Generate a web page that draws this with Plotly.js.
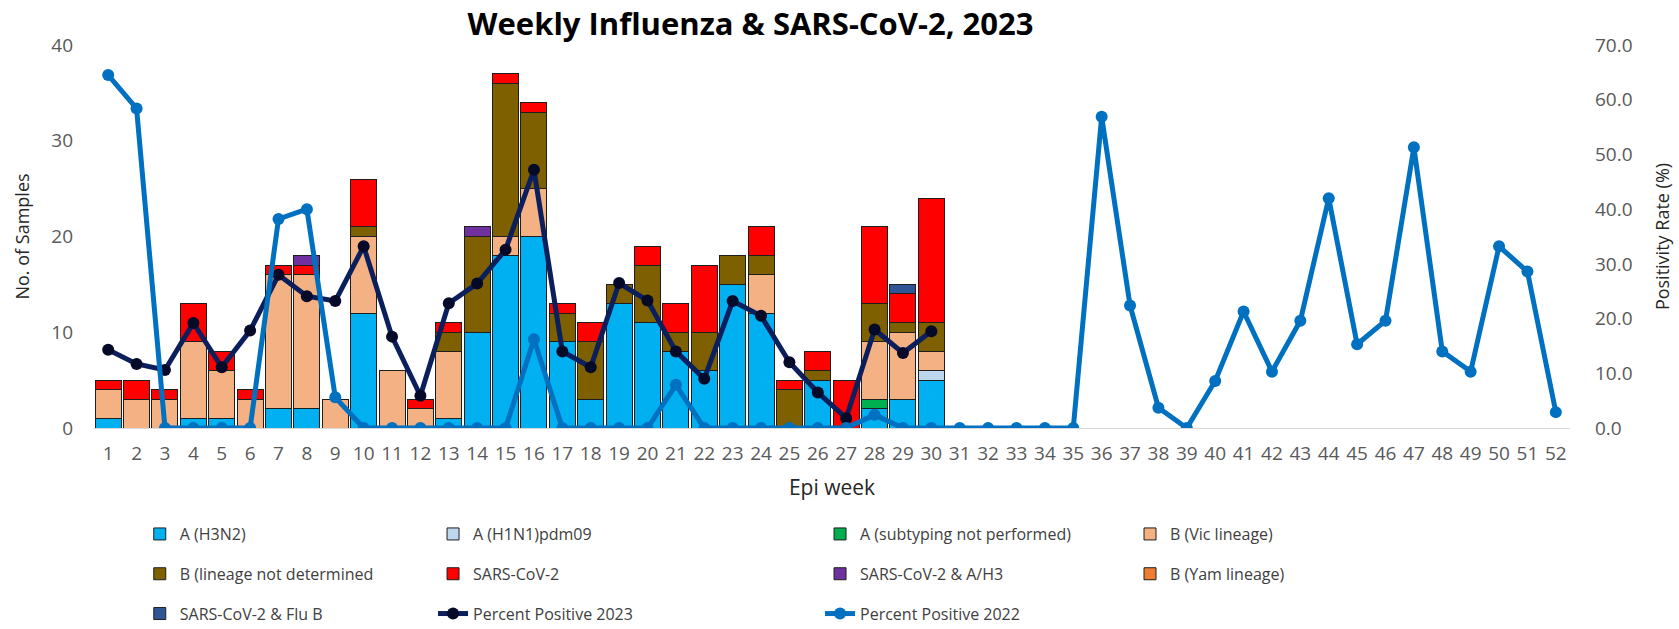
<!DOCTYPE html>
<html>
<head>
<meta charset="utf-8">
<script src="https://cdn.plot.ly/plotly-3.0.1.min.js"></script>
<style>
html,body{margin:0;padding:0;background:#fff;}
#chart{width:1679px;height:629px;}
</style>
</head>
<body>
<div id="chart"></div>
<script>
// ---- data ----
const weeks = ["1","2","3","4","5","6","7","8","9","10","11","12","13","14","15","16","17","18","19","20","21","22","23","24","25","26","27","28","29","30","31","32","33","34","35","36","37","38","39","40","41","42","43","44","45","46","47","48","49","50","51","52"];
const barWeeks = weeks.slice(0, 30);

const aH3N2      = [1,0,0,1,1,0,2,2,0,12,0,0,1,10,18,20,9,3,13,11,8,6,15,12,0,5,0,2,3,5];
const aH1N1      = [0,0,0,0,0,0,0,0,0,0,0,0,0,0,0,0,0,0,0,0,0,0,0,0,0,0,0,0,0,1];
const aSubNP     = [0,0,0,0,0,0,0,0,0,0,0,0,0,0,0,0,0,0,0,0,0,0,0,0,0,0,0,1,0,0];
const bVic       = [3,3,3,8,5,3,14,14,3,8,6,2,7,0,2,5,0,0,0,0,0,0,0,4,0,0,0,6,7,2];
const bND        = [0,0,0,0,0,0,0,0,0,1,0,0,2,10,16,8,3,6,2,6,2,4,3,2,4,1,0,4,1,3];
const sarsCoV2   = [1,2,1,4,2,1,1,1,0,5,0,1,1,0,1,1,1,2,0,2,3,7,0,3,1,2,5,8,3,13];
const sarsAH3    = [0,0,0,0,0,0,0,1,0,0,0,0,0,1,0,0,0,0,0,0,0,0,0,0,0,0,0,0,0,0];
const bYam       = [0,0,0,0,0,0,0,0,0,0,0,0,0,0,0,0,0,0,0,0,0,0,0,0,0,0,0,0,0,0];
const sarsFluB   = [0,0,0,0,0,0,0,0,0,0,0,0,0,0,0,0,0,0,0,0,0,0,0,0,0,0,0,0,1,0];

const pp2023 = [14.3,11.7,10.6,19.2,11.1,17.8,28.0,24.1,23.2,33.2,16.7,5.9,22.8,26.4,32.6,47.2,14.0,11.1,26.5,23.3,14.0,9.0,23.2,20.5,12.0,6.5,1.8,18.0,13.7,17.7];
const pp2022 = [64.5,58.4,0,0,0,0,38.2,40.0,5.6,0,0,0,0,0,0,16.2,0,0,0,0,7.9,0,0,0,0,0,0,2.4,0,0,0,0,0,0,0,56.9,22.4,3.7,0,8.6,21.3,10.3,19.6,42.0,15.3,19.6,51.3,14.0,10.3,33.2,28.6,2.9];

const leftTicks = [0,10,20,30,40];
const rightTicks = [0,10,20,30,40,50,60,70];

// ---- chart ----
const FONT = "Open Sans";
const nz = a => a.map(v => v === 0 ? null : v);
const outline = {color: '#1e1e1e', width: 1};

function barTrace(name, vals, color, legend) {
  return {type: 'bar', name: name, x: barWeeks, y: nz(vals),
          marker: {color: color, line: outline},
          legend: legend, legendgroup: name, hoverinfo: 'x+y+name'};
}

const data = [
  barTrace('A (H3N2)', aH3N2, '#00B0F0', 'legend'),
  barTrace('A (H1N1)pdm09', aH1N1, '#BDD7EE', 'legend2'),
  barTrace('A (subtyping not performed)', aSubNP, '#00B050', 'legend3'),
  barTrace('B (Vic lineage)', bVic, '#F4B183', 'legend4'),
  barTrace('B (lineage not determined', bND, '#7F6000', 'legend'),
  barTrace('SARS-CoV-2', sarsCoV2, '#FF0000', 'legend2'),
  barTrace('SARS-CoV-2 & A/H3', sarsAH3, '#7030A0', 'legend3'),
  barTrace('B (Yam lineage)', bYam, '#ED7D31', 'legend4'),
  barTrace('SARS-CoV-2 & Flu B', sarsFluB, '#2F5597', 'legend'),
  {type: 'scatter', mode: 'lines+markers', name: 'Percent Positive 2023',
   x: barWeeks, y: pp2023, yaxis: 'y2',
   line: {color: '#0B1F5C', width: 5}, marker: {color: '#050A28', size: 12},
   legend: 'legend2', legendgroup: 'pp2023'},
  {type: 'scatter', mode: 'lines+markers', name: 'Percent Positive 2022',
   x: weeks, y: pp2022, yaxis: 'y2',
   line: {color: '#0070C0', width: 5}, marker: {color: '#0070C0', size: 12},
   legend: 'legend3', legendgroup: 'pp2022'}
];

const legendBase = {orientation: 'v', xanchor: 'left', yanchor: 'top',
  yref: 'container', y: 0.178,
  font: {family: FONT, size: 16, color: '#404040'}, tracegroupgap: 16,
  bgcolor: 'rgba(0,0,0,0)', traceorder: 'grouped'};

const layout = {
  width: 1679, height: 629,
  margin: {l: 94, r: 109, t: 45, b: 201, autoexpand: false},
  paper_bgcolor: '#fff', plot_bgcolor: '#fff',
  barmode: 'stack', bargap: 0.085,
  showlegend: true,
  title: {text: 'Weekly Influenza & SARS-CoV-2, 2023', xref: 'container', yref: 'container',
          x: 0.447, xanchor: 'center', y: 0.962, yanchor: 'middle',
          font: {family: FONT, size: 31, color: '#000', weight: 700}},
  xaxis: {type: 'category', categoryorder: 'array', categoryarray: weeks,
          range: [-0.5, 51.5], showgrid: false, zeroline: false,
          showline: true, linecolor: '#D9D9D9', linewidth: 1, ticks: '',
          ticklabelstandoff: 8,
          tickfont: {family: FONT, size: 19, color: '#595959'},
          title: {text: 'Epi week', standoff: 15, font: {family: FONT, size: 21, color: '#262626'}}},
  yaxis: {range: [0, 40], tickvals: leftTicks, showgrid: false, zeroline: false,
          showline: false, ticks: '', ticklabelstandoff: 20,
          tickfont: {family: FONT, size: 19, color: '#595959'},
          title: {text: 'No. of Samples', standoff: 16, font: {family: FONT, size: 18, color: '#262626'}}},
  yaxis2: {range: [0, 70], tickvals: rightTicks, tickformat: '.1f', overlaying: 'y', side: 'right',
          showgrid: false, zeroline: false, showline: false, ticks: '', ticklabelstandoff: 24,
          tickfont: {family: FONT, size: 19, color: '#595959'},
          title: {text: 'Positivity Rate (%)', standoff: 24, font: {family: FONT, size: 18, color: '#262626'}}},
  legend:  Object.assign({}, legendBase, {x: 0.031}),
  legend2: Object.assign({}, legendBase, {x: 0.2297}),
  legend3: Object.assign({}, legendBase, {x: 0.4919}),
  legend4: Object.assign({}, legendBase, {x: 0.7019})
};

Plotly.newPlot('chart', data, layout, {displayModeBar: false, responsive: false});
</script>
</body>
</html>
